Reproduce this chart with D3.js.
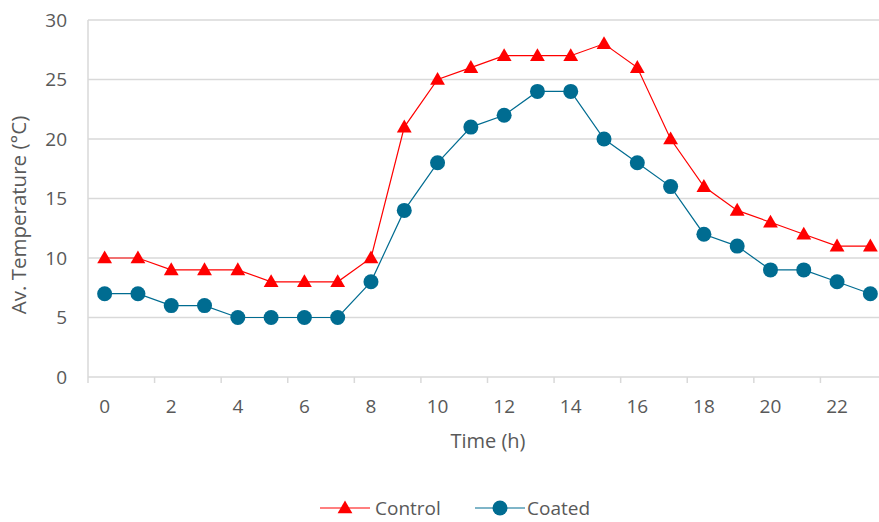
<!DOCTYPE html>
<html>
<head>
<meta charset="utf-8">
<script src="https://cdn.jsdelivr.net/npm/d3@7"></script>
<style>
  body { margin: 0; background: #fff; }
  text { font-family: "Open Sans", sans-serif; fill: #595959; }
</style>
</head>
<body>
<div id="chart"></div>
<script>
const hours = d3.range(0, 24);
const control = [10, 10, 9, 9, 9, 8, 8, 8, 10, 21, 25, 26, 27, 27, 27, 28, 26, 20, 16, 14, 13, 12, 11, 11];
const coated = [7, 7, 6, 6, 5, 5, 5, 5, 8, 14, 18, 21, 22, 24, 24, 20, 18, 16, 12, 11, 9, 9, 8, 7];
const yTicks = [0, 5, 10, 15, 20, 25, 30];
const xLabels = [0, 2, 4, 6, 8, 10, 12, 14, 16, 18, 20, 22];

const width = 879, height = 522;
const margin = { top: 20, right: -8, bottom: 145, left: 88 };

const svg = d3.select("#chart").append("svg")
  .attr("width", width)
  .attr("height", height);

const xScale = d3.scaleBand()
  .domain(hours)
  .range([margin.left, width - margin.right])
  .padding(0);

const yScale = d3.scaleLinear()
  .domain([0, 30])
  .range([height - margin.bottom, margin.top]);

const cx = d => xScale(d) + xScale.bandwidth() / 2;

// gridlines
svg.append("g")
  .selectAll("line")
  .data(yTicks)
  .enter()
  .append("line")
  .attr("x1", margin.left)
  .attr("x2", width)
  .attr("y1", d => yScale(d))
  .attr("y2", d => yScale(d))
  .attr("stroke", "#d9d9d9")
  .attr("stroke-width", 1.5);

// left axis line
svg.append("line")
  .attr("x1", margin.left).attr("x2", margin.left)
  .attr("y1", yScale(30)).attr("y2", yScale(0))
  .attr("stroke", "#d9d9d9").attr("stroke-width", 1.5);

// y labels
svg.append("g")
  .selectAll("text")
  .data(yTicks)
  .enter()
  .append("text")
  .attr("x", 67)
  .attr("y", d => yScale(d))
  .attr("dy", "0.35em")
  .attr("text-anchor", "end")
  .style("font-size", "19px")
  .text(d => d);

// x tick marks every 2 categories at band edges
const tickCats = d3.range(0, 24, 2);
svg.append("g")
  .selectAll("line")
  .data(tickCats)
  .enter()
  .append("line")
  .attr("x1", d => xScale(d))
  .attr("x2", d => xScale(d))
  .attr("y1", yScale(0))
  .attr("y2", yScale(0) + 6)
  .attr("stroke", "#d9d9d9")
  .attr("stroke-width", 1.5);

svg.append("g")
  .selectAll("text")
  .data(xLabels)
  .enter()
  .append("text")
  .attr("x", d => cx(d))
  .attr("y", yScale(0) + 36)
  .attr("text-anchor", "middle")
  .style("font-size", "19px")
  .text(d => d);

// axis titles
svg.append("text")
  .attr("x", 488)
  .attr("y", 448)
  .attr("text-anchor", "middle")
  .style("font-size", "20px")
  .text("Time (h)");

svg.append("text")
  .attr("transform", `translate(26, 215) rotate(-90)`)
  .attr("text-anchor", "middle")
  .style("font-size", "20.5px")
  .text("Av. Temperature (°C)");

const line = d3.line()
  .x((d, i) => cx(hours[i]))
  .y(d => yScale(d));

const red = "#ff0000", blue = "#006c91";
const triangle = d3.symbol().type(d3.symbolTriangle).size(95);

// Control
svg.append("path")
  .datum(control)
  .attr("fill", "none")
  .attr("stroke", red)
  .attr("stroke-width", 1.2)
  .attr("d", line);

svg.append("g")
  .selectAll("path")
  .data(control)
  .enter()
  .append("path")
  .attr("d", triangle)
  .attr("transform", (d, i) => `translate(${cx(hours[i])},${yScale(d) + 1})`)
  .attr("fill", red);

// Coated
svg.append("path")
  .datum(coated)
  .attr("fill", "none")
  .attr("stroke", blue)
  .attr("stroke-width", 1.2)
  .attr("d", line);

svg.append("g")
  .selectAll("circle")
  .data(coated)
  .enter()
  .append("circle")
  .attr("cx", (d, i) => cx(hours[i]))
  .attr("cy", d => yScale(d))
  .attr("r", 7.5)
  .attr("fill", blue);

// legend
const legendY = 508;
const lg1 = svg.append("g");
lg1.append("line").attr("x1", 320).attr("x2", 370).attr("y1", legendY).attr("y2", legendY)
  .attr("stroke", red).attr("stroke-width", 1.2);
lg1.append("path").attr("d", triangle).attr("transform", `translate(345,${legendY + 1})`).attr("fill", red);
lg1.append("text").attr("x", 375).attr("y", legendY).attr("dy", "0.35em")
  .style("font-size", "19px").text("Control");

const lg2 = svg.append("g");
lg2.append("line").attr("x1", 475).attr("x2", 525).attr("y1", legendY).attr("y2", legendY)
  .attr("stroke", blue).attr("stroke-width", 1.2);
lg2.append("circle").attr("cx", 500).attr("cy", legendY).attr("r", 7.5).attr("fill", blue);
lg2.append("text").attr("x", 527).attr("y", legendY).attr("dy", "0.35em")
  .style("font-size", "19px").text("Coated");
</script>
</body>
</html>
